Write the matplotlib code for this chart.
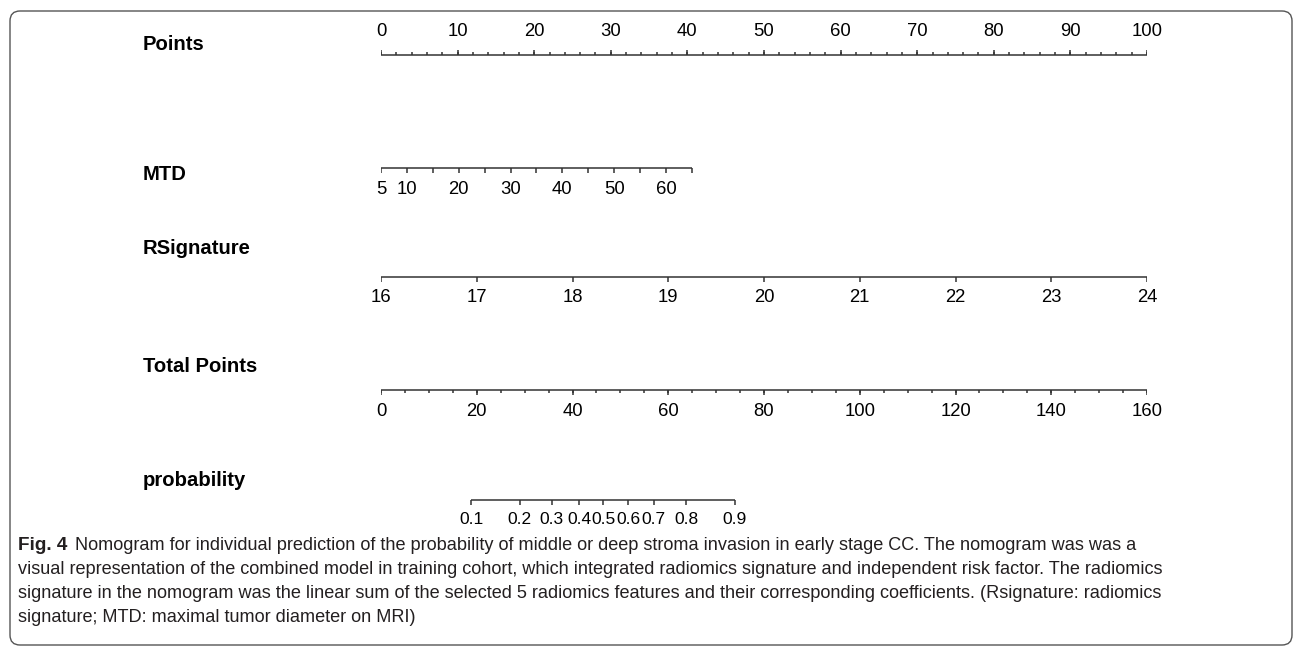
import numpy as np
import matplotlib.pyplot as plt
from matplotlib.patches import FancyBboxPatch

# nomogram scales
points_ticks = np.arange(0, 101, 10)
points_minor = np.arange(0, 101, 2)
mtd_labels = [5, 10, 20, 30, 40, 50, 60]
mtd_ticks = np.arange(5, 66, 5)
mtd_max_points = 40.6          # points for MTD = 65
rsig_ticks = np.arange(16, 25, 1)
total_labels = np.arange(0, 161, 20)
total_minor = np.arange(0, 161, 5)
prob_labels = ['0.1', '0.2', '0.3', '0.4', '0.5', '0.6', '0.7', '0.8', '0.9']
prob_total_points = [18.8, 29.0, 35.7, 41.4, 46.4, 51.6, 57.0, 63.7, 73.9]

row_names = ['Points', 'MTD', 'RSignature', 'Total Points', 'probability']

caption_lines = [
    "Nomogram for individual prediction of the probability of middle or deep stroma invasion in early stage CC. The nomogram was was a",
    "visual representation of the combined model in training cohort, which integrated radiomics signature and independent risk factor. The radiomics",
    "signature in the nomogram was the linear sum of the selected 5 radiomics features and their corresponding coefficients. (Rsignature: radiomics",
    "signature; MTD: maximal tumor diameter on MRI)",
]


def mtd_pts(v):
    return (np.asarray(v) - 5) / 60 * mtd_max_points


def rsig_pts(v):
    return (np.asarray(v) - 16) / 8 * 100


def total_pts(v):
    return np.asarray(v) / 160 * 100


W, H = 1295, 649
fig = plt.figure(figsize=(W / 100, H / 100), dpi=100)
plt.rcParams['font.family'] = ['Liberation Sans', 'DejaVu Sans']

# frame around figure + caption
bg = fig.add_axes([0, 0, 1, 1])
bg.set_xlim(0, W)
bg.set_ylim(H, 0)
bg.axis('off')
bg.add_patch(FancyBboxPatch((10, 11), 1282, 634, boxstyle='round,pad=0,rounding_size=10',
                            fc='none', ec='#555555', lw=1.0))

ax = fig.add_axes([381 / W, 0, 766 / W, 1])
ax.set_xlim(0, 100)
ax.set_ylim(H, 0)
ax.axis('off')

lc = '#333333'
lw = 1.1
fs = 13.3


def draw_row(y, xs_major, xs_minor, labels, up=False, major_len=5, minor_len=3, label_off=20):
    xs_all = np.concatenate([xs_major, xs_minor]) if len(xs_minor) else np.asarray(xs_major)
    ax.hlines(y, min(xs_all), max(xs_all), color=lc, lw=lw)
    sgn = -1 if up else 1
    ax.vlines(xs_major, y, y + sgn * major_len, color=lc, lw=lw)
    if len(xs_minor):
        ax.vlines(xs_minor, y, y + sgn * minor_len, color=lc, lw=lw)
    for x, lab in zip(xs_major[:len(labels)], labels):
        ax.text(x, y + sgn * label_off, lab, ha='center', va='center', fontsize=fs, color='black')


# Points
draw_row(55, points_ticks, points_minor, [str(v) for v in points_ticks], up=True,
         major_len=5, minor_len=3, label_off=23)
# MTD
ax.hlines(168, mtd_pts(5), mtd_pts(65), color=lc, lw=lw)
ax.vlines(mtd_pts(mtd_ticks), 168, 173, color=lc, lw=lw)
for v in mtd_labels:
    ax.text(mtd_pts(v), 189, str(v), ha='center', va='center', fontsize=fs)
# RSignature
draw_row(277, rsig_pts(rsig_ticks), [], [str(v) for v in rsig_ticks],
         major_len=5, label_off=21)
# Total points
draw_row(390, total_pts(total_labels), total_pts(total_minor),
         [str(v) for v in total_labels], major_len=5, minor_len=3, label_off=21)
# probability
ax.hlines(500, total_pts(prob_total_points[0]), total_pts(prob_total_points[-1]), color=lc, lw=lw)
ax.vlines(total_pts(prob_total_points), 500, 505, color=lc, lw=lw)
for x, lab in zip(total_pts(prob_total_points), prob_labels):
    ax.text(x, 520, lab, ha='center', va='center', fontsize=fs - 0.8)

for name, y in zip(row_names, [45, 175, 248, 367, 481]):
    fig.text(143 / W, 1 - y / H, name, ha='left', va='center', fontsize=14.6, fontweight='bold')

# caption
cap_font = ['Liberation Sans', 'DejaVu Sans']
cap_fs = 13.1
cap_col = '#231f20'
fig.canvas.draw()
renderer = fig.canvas.get_renderer()
t = fig.text(18 / W, 1 - 546 / H, 'Fig. 4', ha='left', va='center', fontsize=cap_fs + 0.5,
             fontweight='bold', family=cap_font, color=cap_col)
bb = t.get_window_extent(renderer)
fig.text((bb.x1 + 8) / W, 1 - 546 / H, caption_lines[0], ha='left', va='center',
         fontsize=cap_fs, family=cap_font, color=cap_col)
for i, line in enumerate(caption_lines[1:]):
    fig.text(18 / W, 1 - (570 + 24 * i) / H, line, ha='left', va='center',
             fontsize=cap_fs, family=cap_font, color=cap_col)

fig.savefig('out.png', dpi=100)
